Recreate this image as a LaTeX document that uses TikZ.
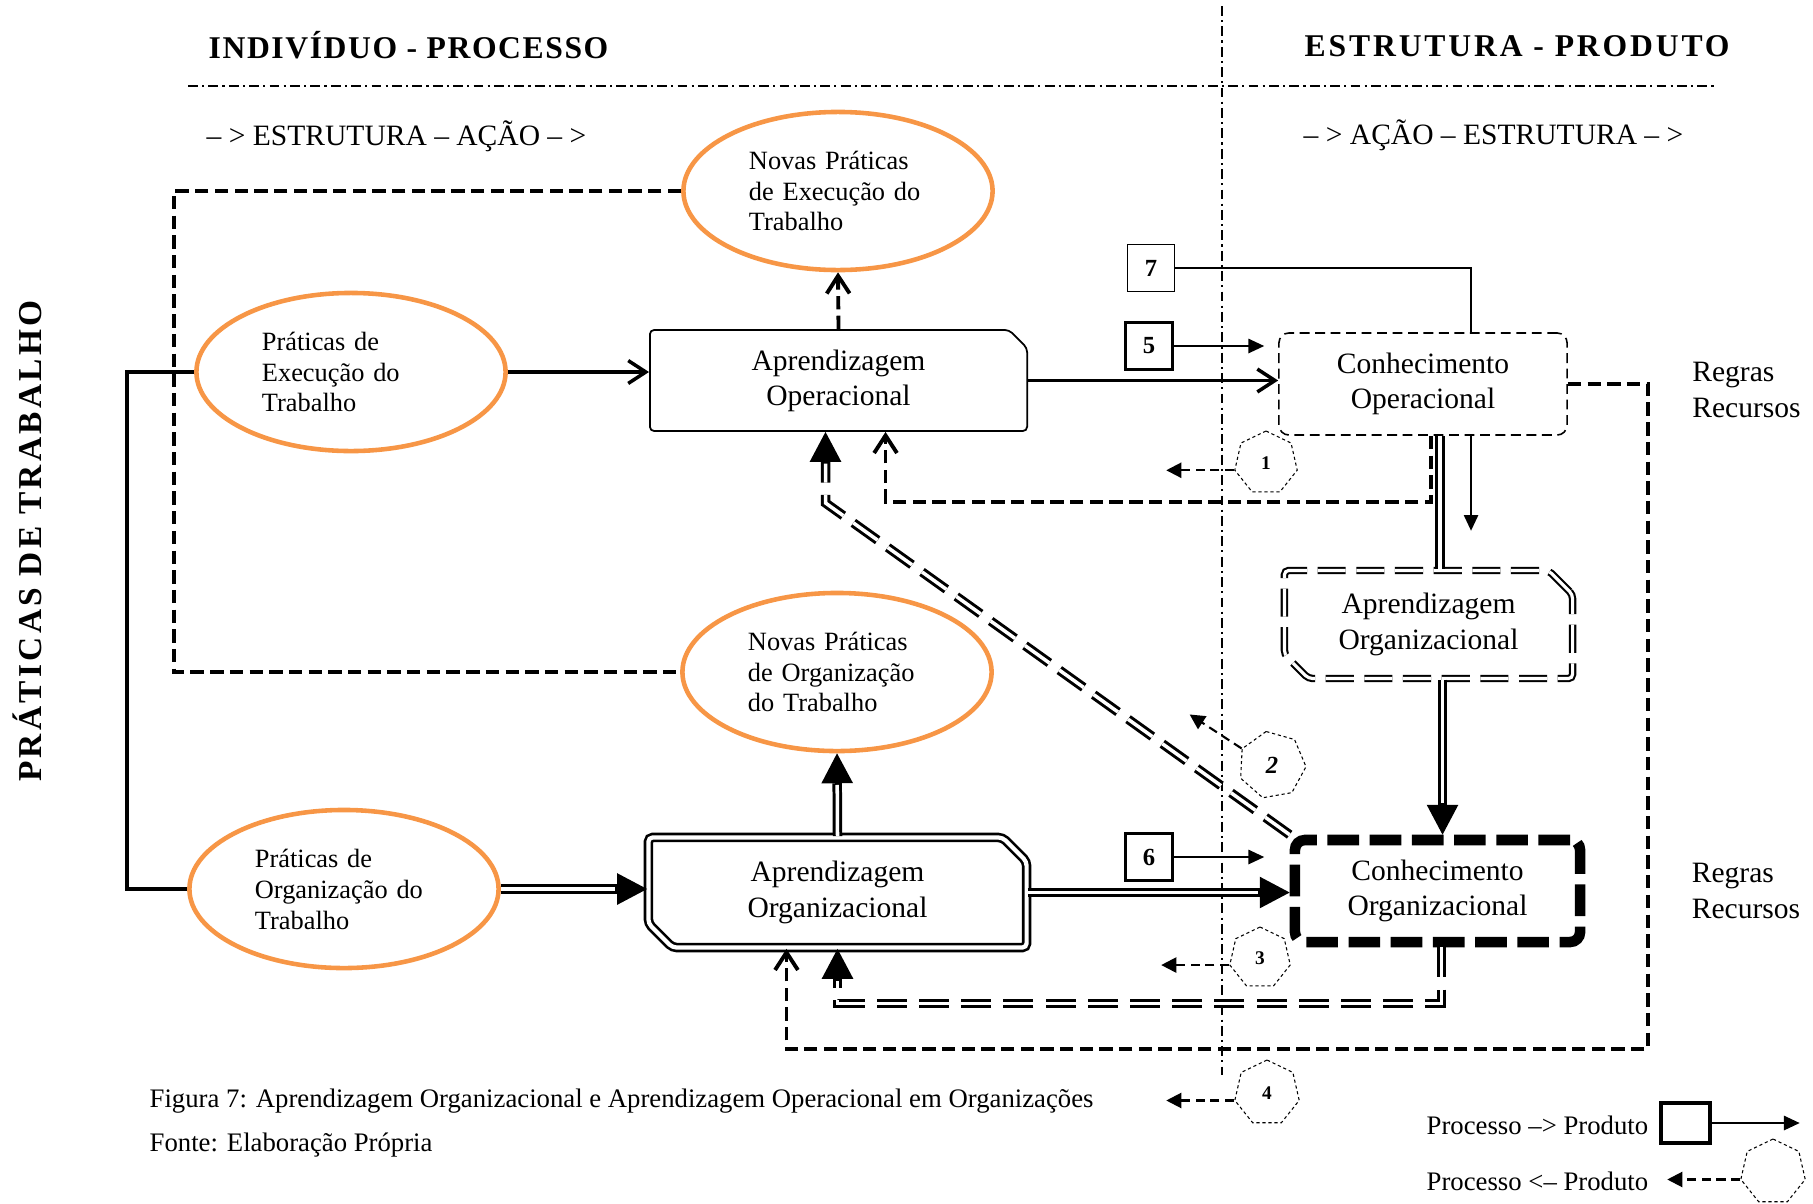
\documentclass[tikz,border=0pt]{standalone}
\usepackage{fontspec}
\setmainfont{Liberation Serif}
\usepackage{xcolor}
\usepackage{tikz}
\usetikzlibrary{shapes.geometric, shapes.misc, arrows.meta, positioning}
\definecolor{praticaorange}{HTML}{F79646}

\begin{document}
\begin{tikzpicture}[
    x=0.01cm, y=-0.01cm,
    txt/.style={font=\fontsize{8.4}{10}\selectfont, align=center},
    small/.style={font=\fontsize{7.6}{9}\selectfont, inner sep=0pt, anchor=west},
    pratica/.style={ellipse, draw=praticaorange, line width=1.3pt, minimum width=3.09cm, minimum height=1.58cm, inner sep=0pt, text width=1.78cm, align=left, font=\fontsize{7.5}{8.8}\selectfont},
    aprbox/.style={chamfered rectangle, chamfered rectangle corners=north east, chamfered rectangle xsep=0.095cm, chamfered rectangle ysep=0.085cm, rounded corners=1.2pt, draw, line width=0.5pt, minimum width=3.77cm, minimum height=1.01cm, inner sep=0pt, txt},
    orgbox/.style={chamfered rectangle, chamfered rectangle corners={north east, south west}, chamfered rectangle xsep=0.12cm, chamfered rectangle ysep=0.12cm, rounded corners=1.2pt, draw, double, line width=0.75pt, double distance=1.2pt, minimum width=3.78cm, minimum height=1.1cm, inner sep=0pt, txt},
    conbox/.style={rectangle, rounded corners=0.1cm, draw, line width=0.45pt, dash pattern=on 2.8pt off 1.6pt, minimum width=2.88cm, minimum height=1.02cm, txt},
    numbox/.style={rectangle, draw, line width=1pt, minimum width=0.47cm, minimum height=0.47cm, inner sep=0pt, font=\bfseries\fontsize{7}{8}\selectfont},
    hept/.style={regular polygon, regular polygon sides=7, draw, line width=0.3pt, dash pattern=on 0.9pt off 0.8pt, minimum size=0.64cm, inner sep=0pt, font=\bfseries\fontsize{5.5}{6}\selectfont},
    divider/.style={line width=0.6pt, dash pattern=on 2.8pt off 1.2pt on 0.6pt off 1.2pt},
    arrow/.style={line width=1pt, -{Straight Barb[length=5pt, width=6.5pt]}},
    numarrow/.style={line width=0.7pt, -{Triangle[length=4.5pt, width=4pt]}},
    hexarrow/.style={line width=0.6pt, dash pattern=on 2.6pt off 1.6pt, -{Triangle[length=4.3pt, width=4.3pt]}},
    dashline/.style={line width=1.1pt, dash pattern=on 3.8pt off 1.8pt},
    dasharrow/.style={dashline, -{Straight Barb[length=5pt, width=6.5pt]}},
    dblline/.style={line width=2.7pt, postaction={draw=white, line width=1pt}},
    dblarrow/.style={line width=2.7pt, -{Triangle[length=8.5pt, width=9pt, line width=0pt]}, postaction={draw=white, line width=1pt, -, shorten >=9pt}},
    dbldasharrow/.style={dblarrow, dash pattern=on 8.5pt off 3.5pt},
]
\useasboundingbox (0,0) rectangle (1813,1203);

\draw[divider] (188,86) -- (1717,86);
\draw[divider] (1222,6) -- (1222,1075);

\node[inner sep=0pt, anchor=west, font=\bfseries\fontsize{9}{11}\selectfont\addfontfeature{LetterSpace=5}] (indiv) at (208,45) {INDIVÍDUO - PROCESSO};
\node[inner sep=0pt, anchor=west, font=\bfseries\fontsize{9}{11}\selectfont\addfontfeature{LetterSpace=9}] (estrut) at (1304,46) {ESTRUTURA - PRODUTO};
\node[txt, inner sep=0pt, anchor=west] (acaoL) at (206,136) {– > ESTRUTURA – AÇÃO – >};
\node[txt, inner sep=0pt, anchor=west] (acaoR) at (1303,135) {– > AÇÃO – ESTRUTURA – >};
\node[rotate=90, inner sep=0pt, font=\bfseries\fontsize{9.5}{11}\selectfont\addfontfeature{LetterSpace=10}] (side) at (27,541) {PRÁTICAS DE TRABALHO};

\node[pratica] (nexec) at (838,191) {Novas Práticas\\de Execução do\\Trabalho};
\node[pratica] (pexec) at (351,372) {Práticas de\\Execução do\\Trabalho};
\node[pratica] (norg) at (837,672) {Novas Práticas\\de Organização\\do Trabalho};
\node[pratica] (porg) at (344,889) {Práticas de\\Organização do\\Trabalho};

\node[aprbox] (aprop) at (838.5,380.5) {Aprendizagem\\Operacional};
\node[orgbox] (aprorg) at (837.5,892.5) {Aprendizagem\\Organizacional};
\node[conbox] (conop) at (1423,384) {Conhecimento\\Operacional};
\node[orgbox, line width=0.6pt, double distance=0.9pt, dash pattern=on 8pt off 3pt, minimum width=2.88cm, minimum height=1.08cm] (aprorg2) at (1428.5,624.5) {Aprendizagem\\Organizacional};
\node[conbox, line width=3pt, dash pattern=on 9pt off 3pt, minimum width=2.85cm] (conorg) at (1437.5,891) {Conhecimento\\Organizacional};

\node[numbox, line width=0.4pt] (n7) at (1151,268) {7};
\node[numbox] (n5) at (1149,346) {5};
\node[numbox] (n6) at (1149,857) {6};

\node[hept] (h1) at (1266,463) {1};
\node[hept, minimum size=0.68cm, shape border rotate=10, font=\bfseries\itshape\fontsize{7}{8}\selectfont] (h2) at (1272,765) {2};
\node[hept, minimum size=0.62cm] (h3) at (1260,958) {3};
\node[hept, minimum size=0.66cm] (h4) at (1267,1093) {4};

\node[txt, align=left, right=1.12cm of conop, yshift=-0.06cm] (regras1) {Regras\\Recursos};
\node[txt, align=left, right=0.94cm of conorg] (regras2) {Regras\\Recursos};

\draw[arrow] (pexec.east) -- (pexec.east -| aprop.west);
\draw[dblarrow] (porg.east) -- (porg.east -| aprorg.west);
\draw[line width=1.1pt] (pexec.west) -- ++(-67,0) |- (porg.west);
\draw[dashline] (nexec.west) -- ++(-507,0) |- (norg.west);
\draw[dasharrow] (aprop.north) -- (nexec.south);
\draw[dblarrow] (aprorg.north) -- (norg.south);

\draw[arrow] (aprop.east) -- (aprop.east -| conop.west);
\draw[dblarrow] (aprorg.east) -- (aprorg.east -| conorg.west);
\draw[line width=0.5pt] (n7.east) -| ([xshift=0.48cm]conop.north);
\draw[numarrow] (n5.east) -- ++(90,0);
\draw[numarrow] (n6.east) -- ++(90,0);

\draw[numarrow] ([xshift=0.48cm]conop.south) -- ++(0,95);
\draw[dblline] ([xshift=0.17cm]conop.south) -- ([xshift=0.17cm]conop.south |- aprorg2.north);
\draw[dblarrow] ([xshift=0.14cm]aprorg2.south) -- ([xshift=0.14cm]aprorg2.south |- conorg.north);
\draw[dasharrow] ([xshift=0.08cm]conop.south) -- ++(0,66) -| ([xshift=0.47cm]aprop.south);
\draw[dasharrow] (conop.east) -- ++(80,0) |- ([xshift=-0.51cm, yshift=-1.0cm]aprorg.south) -- ([xshift=-0.51cm]aprorg.south);
\draw[dbldasharrow] ([xshift=0.04cm]conorg.south) -- ++(0,56) -| (aprorg.south);
\draw[dbldasharrow] (conorg.north west) -- ([xshift=-0.13cm, yshift=-0.71cm]aprop.south) -- ([xshift=-0.13cm]aprop.south);

\draw[hexarrow] (h1.corner 3) -- ++(-68,0);
\draw[hexarrow] (h2.corner 2) -- ++(-52,-34);
\draw[hexarrow] (h3.corner 3) -- ++(-68,0);
\draw[hexarrow] (h4.corner 3) -- ++(-68,0);

\node[small] (fig) at (149,1101) {Figura 7: Aprendizagem Organizacional e Aprendizagem Operacional em Organizações};
\node[small] (fonte) at (149,1145) {Fonte: Elaboração Própria};

\node[small] (legA) at (1426,1125) {Processo –> Produto};
\node[numbox, minimum width=0.49cm, minimum height=0.4cm] (legbox) at (1685.5,1123) {};
\draw[numarrow] (legbox.east) -- ++(88,0);
\node[small] (legB) at (1426,1181) {Processo <– Produto};
\node[hept, minimum size=0.66cm] (leghept) at (1773,1172) {};
\draw[hexarrow] (leghept.corner 3) -- ++(-73,0);

\end{tikzpicture}
\end{document}
